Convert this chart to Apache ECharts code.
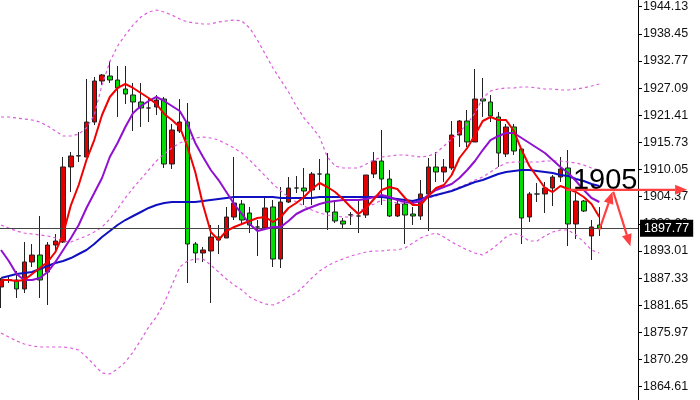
<!DOCTYPE html>
<html><head><meta charset="utf-8">
<script src="https://cdn.jsdelivr.net/npm/echarts@6/dist/echarts.min.js"></script>
<style>html,body{margin:0;padding:0;background:#fff}#c{width:700px;height:400px}</style>
</head><body><div id="c"></div>
<script>
// ---- candle data (index = bar number) ----
const openP = [1885.48,1886.94,1886.94,1885.06,1890.71,1892.17,1888.61,1894.26,1894.89,1910.59,
1912.89,1912.68,1920.00,1928.58,1929.63,1928.79,1926.91,1925.65,1924.19,1922.93,
1923.14,1924.81,1911.21,1918.12,1920.00,1894.47,1892.59,1893.01,1895.94,1895.73,
1900.12,1902.84,1900.96,1898.03,1897.82,1902.22,1891.33,1903.26,1906.19,1906.19,
1905.77,1909.12,1909.12,1901.17,1899.29,1900.54,1900.33,1900.54,1909.12,1911.84,
1908.07,1900.33,1902.84,1900.75,1900.33,1904.94,1910.59,1909.54,1910.38,1917.28,
1920.21,1915.82,1924.81,1924.19,1921.05,1913.31,1918.96,1914.35,1900.12,1904.94,
1904.94,1906.19,1908.49,1910.38,1898.66,1903.47,1896.15,1898.45];
const closeP = [1886.94,1887.00,1885.06,1890.71,1892.17,1886.94,1894.26,1895.10,1910.59,1912.89,
1912.95,1920.00,1928.58,1929.84,1928.79,1927.12,1925.86,1924.19,1922.93,1922.93,
1924.60,1911.21,1918.33,1920.00,1894.47,1892.59,1893.22,1895.94,1895.31,1900.12,
1903.05,1899.49,1898.45,1898.03,1902.01,1891.33,1903.26,1906.19,1906.19,1905.56,
1909.12,1909.12,1901.17,1899.29,1898.66,1900.60,1900.33,1908.91,1911.84,1908.07,
1900.33,1902.84,1900.54,1900.33,1904.94,1910.59,1909.54,1910.59,1917.28,1920.21,
1915.82,1924.81,1924.40,1921.26,1913.51,1918.96,1913.93,1899.91,1904.94,1904.94,
1906.19,1908.49,1910.17,1898.66,1903.47,1901.38,1898.03,1897.77];
const lowP = [1881.08,1886.31,1883.17,1884.22,1889.66,1883.17,1881.71,1893.01,1894.68,1905.35,
1911.63,1912.68,1919.37,1927.74,1928.16,1921.05,1923.77,1918.12,1918.96,1920.00,
1921.47,1910.38,1910.17,1917.70,1886.31,1890.50,1890.71,1882.13,1892.38,1895.73,
1899.49,1898.45,1896.77,1891.96,1897.40,1889.66,1889.45,1903.05,1905.14,1902.63,
1902.63,1905.77,1897.40,1898.87,1897.82,1898.45,1896.77,1899.91,1908.28,1902.63,
1900.12,1900.12,1894.47,1898.45,1899.49,1897.19,1907.45,1907.45,1909.96,1914.77,
1914.77,1915.82,1921.05,1920.00,1910.59,1912.68,1913.10,1894.47,1899.08,1903.26,
1900.96,1902.42,1907.45,1894.05,1895.52,1901.17,1891.12,1896.15];
const highP = [1887.36,1887.57,1888.82,1894.89,1894.47,1900.33,1894.89,1896.57,1912.68,1913.72,
1917.91,1929.00,1929.42,1930.05,1932.77,1931.72,1931.72,1928.16,1928.16,1925.23,
1925.65,1925.23,1919.58,1924.81,1923.98,1894.89,1893.85,1898.45,1898.45,1902.22,
1912.68,1903.68,1902.22,1899.49,1904.10,1903.68,1906.40,1908.49,1908.70,1910.38,
1909.54,1912.26,1913.51,1903.68,1899.91,1901.17,1903.68,1908.91,1913.72,1918.33,
1909.96,1903.68,1903.26,1902.22,1907.86,1912.47,1913.72,1912.26,1920.21,1920.42,
1922.51,1931.09,1929.21,1925.65,1922.09,1919.58,1919.58,1914.56,1905.35,1907.24,
1907.45,1908.91,1912.68,1914.14,1905.14,1903.68,1899.49,1902.22];

// ---- indicator lines ----
const maFast = [1886.94,1886.94,1886.73,1886.94,1888.20,1889.45,1890.71,1892.80,1896.57,1902.63,
1906.82,1912.05,1916.23,1921.47,1925.23,1927.12,1927.95,1927.12,1926.07,1925.02,
1923.77,1921.68,1920.42,1918.96,1914.77,1909.54,1902.63,1896.98,1895.31,1897.19,
1898.03,1898.66,1899.29,1899.91,1900.12,1899.08,1900.12,1902.01,1903.05,1904.31,
1905.98,1907.24,1906.40,1905.35,1903.89,1902.22,1900.75,1902.01,1903.89,1905.77,
1906.40,1905.98,1904.10,1902.63,1902.63,1904.52,1906.19,1906.82,1908.91,1912.47,
1914.56,1917.28,1920.21,1921.05,1920.42,1920.42,1918.12,1914.14,1910.79,1908.49,
1906.19,1905.35,1906.61,1905.98,1905.35,1904.31,1902.84,1900.12];
const maMid = [1893.22,1890.92,1888.20,1886.94,1886.94,1887.36,1888.61,1890.71,1893.22,1895.73,
1898.45,1902.01,1905.14,1908.28,1912.68,1915.61,1918.96,1921.88,1923.35,1924.40,
1925.23,1924.40,1923.35,1922.30,1919.58,1915.61,1912.68,1909.96,1907.86,1905.35,
1902.84,1900.75,1898.66,1897.19,1897.61,1898.03,1898.03,1899.29,1900.75,1901.59,
1902.22,1902.84,1903.26,1903.47,1903.68,1903.68,1903.68,1903.89,1904.31,1904.73,
1904.31,1903.68,1903.26,1903.05,1903.47,1904.73,1905.77,1906.40,1907.03,1908.28,
1909.96,1911.84,1914.14,1916.23,1917.07,1917.70,1917.70,1916.65,1915.61,1914.56,
1913.51,1912.05,1910.59,1909.33,1907.66,1905.77,1904.10,1903.26];
const maSlow = [1887.36,1887.78,1888.20,1888.40,1888.61,1889.24,1889.87,1890.50,1890.92,1891.54,
1892.38,1893.22,1894.47,1895.94,1897.19,1898.45,1899.49,1900.33,1901.17,1902.01,
1902.63,1903.05,1903.26,1903.26,1903.26,1903.26,1903.47,1903.68,1903.89,1904.10,
1904.31,1904.31,1904.31,1904.31,1904.31,1904.31,1904.10,1904.10,1904.10,1904.10,
1904.10,1904.31,1904.31,1904.31,1904.31,1904.31,1904.31,1904.31,1904.31,1904.31,
1904.10,1903.89,1903.68,1903.47,1903.89,1904.31,1904.73,1905.14,1905.56,1906.19,
1906.82,1907.45,1907.86,1908.49,1909.12,1909.54,1909.75,1909.96,1909.96,1909.75,
1909.54,1909.33,1908.91,1908.70,1908.07,1907.66,1907.03,1906.61];
const bbUpper = [1921.05,1921.05,1920.84,1920.63,1920.42,1920.00,1919.16,1918.12,1917.07,1917.07,
1917.49,1918.75,1921.47,1927.74,1932.56,1935.90,1938.21,1940.30,1941.97,1943.02,
1943.44,1943.02,1942.39,1941.55,1940.93,1940.72,1940.51,1940.51,1940.93,1941.14,
1941.35,1941.14,1939.67,1937.16,1934.23,1931.30,1928.79,1926.28,1923.35,1920.84,
1918.96,1916.86,1912.68,1910.79,1910.38,1910.38,1910.38,1911.21,1912.05,1912.68,
1912.89,1913.10,1913.10,1912.89,1912.68,1912.89,1913.51,1914.98,1916.44,1917.91,
1919.58,1921.88,1925.02,1926.49,1926.91,1927.12,1927.12,1927.33,1927.33,1927.12,
1926.91,1926.91,1926.70,1926.70,1926.91,1927.12,1927.53,1927.95];
const bbMiddle = [1898.45,1897.82,1897.19,1896.77,1896.57,1896.36,1896.15,1895.73,1895.10,1894.89,
1895.52,1896.15,1896.98,1898.03,1899.70,1901.80,1904.10,1906.19,1908.07,1909.96,
1911.84,1913.31,1914.56,1915.61,1916.23,1916.65,1916.86,1916.65,1916.23,1915.40,
1914.56,1913.51,1912.05,1910.38,1908.70,1907.03,1905.56,1904.31,1903.26,1902.42,
1901.59,1900.96,1900.54,1900.33,1900.12,1900.12,1901.17,1902.22,1902.84,1903.68,
1903.47,1903.05,1903.05,1903.26,1903.68,1904.10,1904.52,1905.14,1905.77,1906.40,
1907.03,1907.86,1908.49,1909.54,1910.59,1911.42,1911.63,1911.63,1911.63,1911.63,
1911.84,1911.84,1911.84,1911.63,1911.42,1911.00,1910.38,1909.96];
const bbLower = [1875.85,1875.01,1874.18,1873.55,1873.13,1872.92,1872.92,1872.92,1872.92,1872.71,
1872.29,1870.83,1869.15,1867.48,1867.27,1868.32,1869.78,1871.87,1874.39,1877.11,
1879.20,1882.13,1885.89,1889.66,1890.92,1891.33,1891.33,1890.08,1888.61,1887.15,
1885.89,1884.85,1883.38,1882.55,1881.92,1881.71,1882.34,1883.38,1884.22,1885.68,
1887.36,1888.82,1889.87,1890.71,1891.33,1891.96,1892.38,1892.80,1893.01,1893.01,
1893.22,1893.22,1893.64,1894.68,1895.73,1896.36,1896.77,1895.94,1894.89,1894.05,
1893.22,1892.59,1892.17,1893.22,1894.47,1895.94,1896.77,1896.15,1895.10,1895.10,
1896.15,1896.98,1897.40,1897.40,1896.36,1894.89,1893.22,1892.59];

// ---- axis ticks & annotations ----
const yTicks = [1944.13,1938.45,1932.77,1927.09,1921.41,1915.73,1910.05,1904.37,1898.69,1893.01,1887.33,1881.65,1875.97,1870.29,1864.61];
const lastPrice = 1897.77;
const noteText = '1905';
const notePos = [73.6, 1908.0];
const hArrow = [[72.7, 1905.8], [88.3, 1905.8]];
const upArrow = [[77.0, 1897.4], [78.7, 1905.4]];
const downArrow = [[78.8, 1905.4], [81.0, 1894.0]];

const chart = echarts.init(document.getElementById('c'), null, {renderer:'canvas'});
const candleData = openP.map((o,i)=>[i, o, closeP[i], lowP[i], highP[i]]);
const pair = arr => arr.map((v,i)=>[i,v]);
function lineS(arr, color, width, type, z){
  return {type:'line', data:pair(arr), symbol:'none', showSymbol:false, silent:true, z:z,
    lineStyle:{color:color, width:width, type:type}};
}
const band = '#dd5cdd';
const option = {
  animation:false,
  backgroundColor:'#fff',
  grid:{left:0, right:62, top:0, bottom:0},
  xAxis:{type:'value', min:-0.13, max:81.98, show:false},
  yAxis:{type:'value', position:'right', min:1861.83, max:1945.53, scale:true,
    axisLine:{show:true, onZero:false, lineStyle:{color:'#000', width:1}},
    axisTick:{show:true, length:4, lineStyle:{color:'#000'}, customValues:yTicks},
    axisLabel:{show:true, customValues:yTicks, formatter:v=>Number(v).toFixed(2), color:'#111',
      fontSize:12.5, fontFamily:'Liberation Sans, Arial, sans-serif', margin:5},
    splitLine:{show:false}},
  series:[
    {type:'candlestick', data:candleData, encode:{x:0, y:[1,2,3,4]}, barWidth:5, z:2, silent:true,
      itemStyle:{color:'#e00000', color0:'#00dd00', borderColor:'#222', borderColor0:'#222', borderColorDoji:'#222', borderWidth:1},
      markLine:{symbol:['none','none'], silent:true, animation:false, z:5,
        lineStyle:{color:'#444', width:1, type:'solid'},
        label:{show:true, position:'end', formatter:lastPrice.toFixed(2), backgroundColor:'#000', color:'#fff',
          padding:[2,4,2,4], fontSize:12.5, fontFamily:'Liberation Sans, Arial, sans-serif', distance:2},
        emphasis:{disabled:true},
        data:[{yAxis:lastPrice}]}},
    lineS(bbUpper, band, 1.2, [3,3], 3),
    lineS(bbMiddle, band, 1.2, [3,3], 3),
    lineS(bbLower, band, 1.2, [3,3], 3),
    lineS(maSlow, '#1010c0', 2, 'solid', 4),
    lineS(maMid, '#9010d0', 2, 'solid', 5),
    lineS(maFast, '#f00000', 2, 'solid', 6)
  ]
};
chart.setOption(option);

const P = (d) => chart.convertToPixel({gridIndex:0}, d);
const red = '#ff4040';
function arrow(a, b){
  const [x0,y0]=P(a), [x1,y1]=P(b);
  const dx=x1-x0, dy=y1-y0, L=Math.hypot(dx,dy), ux=dx/L, uy=dy/L;
  const hl=12, hw=5;
  const bx=x1-ux*hl, by=y1-uy*hl;
  return [
    {type:'line', z:100, silent:true, shape:{x1:x0,y1:y0,x2:bx,y2:by}, style:{stroke:red, lineWidth:2.2}},
    {type:'polygon', z:100, silent:true, shape:{points:[[x1,y1],[bx-uy*hw,by+ux*hw],[bx+uy*hw,by-ux*hw]]}, style:{fill:red}}
  ];
}
const tp = P(notePos);
chart.setOption({graphic:[
  {type:'text', z:99, silent:true, left:tp[0], top:tp[1]-13, style:{text:noteText, fill:'#000', fontSize:29, fontFamily:'Liberation Sans, Arial, sans-serif'}},
  ...arrow(hArrow[0], hArrow[1]),
  ...arrow(upArrow[0], upArrow[1]),
  ...arrow(downArrow[0], downArrow[1])
]});
</script></body></html>
